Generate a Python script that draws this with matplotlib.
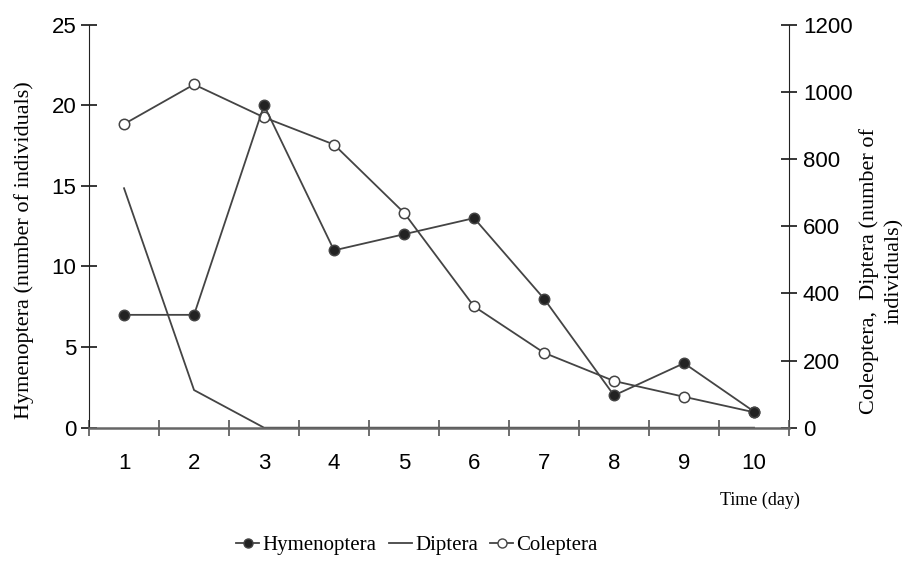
import matplotlib
matplotlib.use("Agg")
import matplotlib.pyplot as plt
from matplotlib.lines import Line2D

days = ["1", "2", "3", "4", "5", "6", "7", "8", "9", "10"]
hymenoptera = [7, 7, 20, 11, 12, 13, 8, 2, 4, 1]
diptera = [713, 112, 0, 0, 0, 0, 0, 0, 0, 0]
coleoptera = [904, 1022, 924, 843, 640, 361, 223, 139, 92, 46]

left_ticks = [0, 5, 10, 15, 20, 25]
right_ticks = [0, 200, 400, 600, 800, 1000, 1200]

LC = "#444444"
sans = "Liberation Sans"
serif = "Liberation Serif"
TS = 16

fig = plt.figure(figsize=(9.03, 5.74), dpi=100)
ax = fig.add_axes([0.0986, 0.2549, 0.7752, 0.7021])
ax2 = ax.twinx()

x = list(range(len(days)))

ax2.plot(x, diptera, color=LC, lw=1.3, zorder=2)
ax2.plot(x, coleoptera, color=LC, lw=1.3, marker="o", markersize=7.5,
         markerfacecolor="white", markeredgecolor=LC, markeredgewidth=1.1, zorder=3)
ax.plot(x, hymenoptera, color=LC, lw=1.3, marker="o", markersize=7.5,
        markerfacecolor="#222222", markeredgecolor=LC, markeredgewidth=1.1, zorder=4)
ax.set_zorder(ax2.get_zorder() + 1)
ax.patch.set_visible(False)

ax.set_xlim(-0.5, len(days) - 0.5)
ax.set_ylim(0, 25)
ax2.set_ylim(0, 1200)
ax.set_yticks(left_ticks)
ax2.set_yticks(right_ticks)
ax.set_xticks([i - 0.5 for i in range(len(days) + 1)], minor=False)
ax.set_xticklabels([""] * (len(days) + 1))
ax.set_xticks(x, minor=True)
ax.set_xticklabels(days, minor=True)
ax.tick_params(axis="x", which="minor", length=0, pad=18, labelsize=TS)
ax.tick_params(axis="x", which="major", direction="inout", length=12, width=1.2, color="#555555")

ax.tick_params(axis="y", direction="inout", length=12, width=1.1, labelsize=TS, pad=3)
ax2.tick_params(axis="y", direction="inout", length=12, width=1.1, labelsize=TS, pad=4)
for a in (ax, ax2):
    a.spines["top"].set_visible(False)
    for t in a.get_yticklabels() + a.get_xticklabels(minor=True):
        t.set_fontfamily(sans)

ax.spines["left"].set_color("#222222")
ax2.spines["right"].set_color("#222222")
ax.spines["bottom"].set_color("#666666")
ax.spines["bottom"].set_linewidth(1.8)
ax2.spines["bottom"].set_visible(False)
ax.spines["right"].set_visible(False)
ax2.spines["left"].set_visible(False)

ax.set_ylabel("Hymenoptera (number of individuals)", family=serif, fontsize=16)
ax.yaxis.set_label_coords(-0.078, 0.44)
ax2.set_ylabel("Coleoptera,  Diptera (number of\nindividuals)", family=serif, fontsize=16,
               linespacing=1.45, rotation=90, va="center", ha="center")
ax2.yaxis.set_label_coords(1.132, 0.39)

fig.text(0.842, 0.128, "Time (day)", family=serif, fontsize=13, ha="center", va="center")

handles = [
    Line2D([], [], color=LC, lw=1.3, marker="o", markersize=6.5, markerfacecolor="#222222", markeredgecolor=LC),
    Line2D([], [], color=LC, lw=1.3),
    Line2D([], [], color=LC, lw=1.3, marker="o", markersize=6.5, markerfacecolor="white", markeredgecolor=LC),
]
fig.legend(handles, ["Hymenoptera", "Diptera", "Coleptera"], loc="center", bbox_to_anchor=(0.462, 0.05),
           ncol=3, frameon=False, prop={"family": serif, "size": 15}, handlelength=1.1,
           handletextpad=0.15, columnspacing=0.6)

fig.savefig("out.png", dpi=100)
